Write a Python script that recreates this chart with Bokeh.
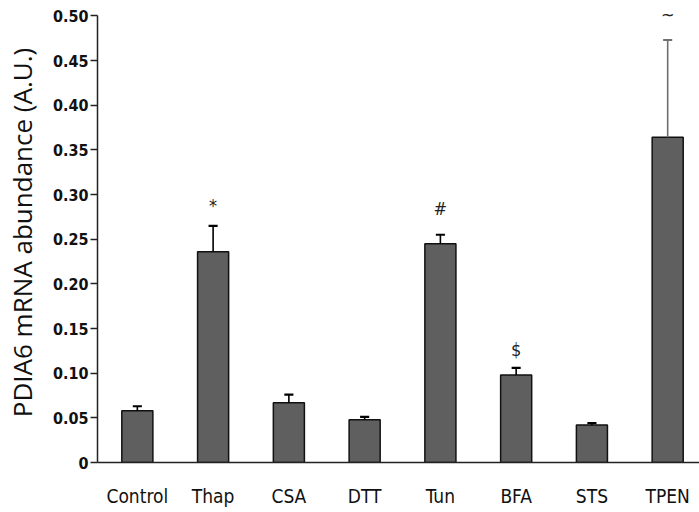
from bokeh.plotting import figure
from bokeh.models import ColumnDataSource, FixedTicker, Range1d, LabelSet
from bokeh.embed import file_html
from bokeh.resources import INLINE
from bokeh.core.properties import value

categories = ["Control", "Thap", "CSA", "DTT", "Tun", "BFA", "STS", "TPEN"]
means = [0.058, 0.236, 0.067, 0.048, 0.245, 0.098, 0.042, 0.364]
errors = [0.005, 0.029, 0.009, 0.003, 0.010, 0.008, 0.002, 0.109]
markers = ["", "*", "", "", "#", "$", "", "~"]
marker_y = [0, 0.288, 0, 0, 0.284, 0.126, 0, 0.502]
y_ticks = [0, 0.05, 0.10, 0.15, 0.20, 0.25, 0.30, 0.35, 0.40, 0.45, 0.50]

NARROW = "'Liberation Sans Narrow', 'DejaVu Sans Condensed', 'Open Sans', sans-serif"

xs = list(range(len(categories)))
tops = [m + e for m, e in zip(means, errors)]
cap = 0.06
src = ColumnDataSource(dict(
    x=xs, m=means, top=tops,
    c0=[x - cap for x in xs], c1=[x + cap for x in xs],
    color=["#000000"] * 7 + ["#707070"],
))
lab_src = ColumnDataSource(dict(x=xs, y=marker_y, t=markers))

p = figure(width=699, height=512, output_backend="svg", toolbar_location=None,
           x_range=Range1d(-0.526, 7.42), y_range=Range1d(0, 0.515),
           min_border_left=95, min_border_right=0, min_border_top=2,
           min_border_bottom=50)
p.outline_line_color = None
p.grid.visible = False

p.vbar(x="x", top="m", bottom=0, width=0.41, source=src,
       fill_color="#5f5f5f", line_color="#111111", line_width=1.5)
p.segment(x0="x", y0="m", x1="x", y1="top", source=src,
          line_color="color", line_width=1.6)
p.segment(x0="c0", y0="top", x1="c1", y1="top", source=src,
          line_color="color", line_width=2.2)

labels = LabelSet(x="x", y="y", text="t", source=lab_src,
                  text_align="center", text_baseline="middle",
                  text_font=value(NARROW), text_font_size="18px",
                  text_color="#222222")
p.add_layout(labels)

p.xaxis.ticker = FixedTicker(ticks=xs)
p.xaxis.major_label_overrides = {i: c for i, c in enumerate(categories)}
p.xaxis.major_tick_line_color = None
p.xaxis.minor_tick_line_color = None
p.xaxis.axis_line_width = 1.5
p.xaxis.axis_line_color = "#222222"
p.xaxis.major_label_text_font = NARROW
p.xaxis.major_label_text_font_size = "19px"
p.xaxis.major_label_text_color = "#111111"
p.xaxis.major_label_standoff = 16

p.yaxis.ticker = FixedTicker(ticks=y_ticks)
p.yaxis.bounds = (0, 0.5)
p.yaxis.major_label_overrides = {t: ("0" if t == 0 else f"{t:.2f}") for t in y_ticks}
p.yaxis.minor_tick_line_color = None
p.yaxis.major_tick_in = 0
p.yaxis.major_tick_out = 7
p.yaxis.major_tick_line_width = 1.5
p.yaxis.axis_line_width = 1.5
p.yaxis.axis_line_color = "#222222"
p.yaxis.major_tick_line_color = "#222222"
p.yaxis.major_label_text_font = NARROW
p.yaxis.major_label_text_font_size = "16px"
p.yaxis.major_label_text_font_style = "bold"
p.yaxis.major_label_text_color = "#111111"
p.yaxis.major_label_standoff = 2
p.yaxis.axis_label = "PDIA6 mRNA abundance (A.U.)"
p.yaxis.axis_label_text_font = "Open Sans"
p.yaxis.axis_label_text_font_size = "26px"
p.yaxis.axis_label_text_font_style = "normal"
p.yaxis.axis_label_text_color = "#111111"
p.yaxis.axis_label_standoff = 10

open("out.html", "w").write(file_html(p, INLINE))
